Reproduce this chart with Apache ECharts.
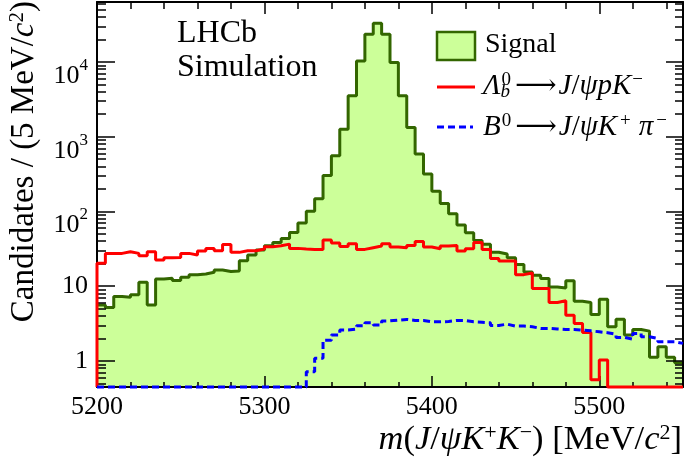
<!DOCTYPE html>
<html>
<head>
<meta charset="utf-8">
<script src="https://cdn.jsdelivr.net/npm/echarts@6/dist/echarts.min.js"></script>
<style>
html,body{margin:0;padding:0;background:#fff;}
#chart{width:685px;height:461px;}
</style>
</head>
<body>
<div id="chart"></div>
<script>
// ---- data (5 MeV bins from 5200 to 5550) ----
const X_MIN = 5200, X_MAX = 5550, BIN_WIDTH = 5;
const Y_MIN = 0.449, Y_MAX = 63400;
const xTickValues = [5200, 5300, 5400, 5500];
const yTickValues = [1, 10, 100, 1000, 10000];
const yTickLabels = ['1', '10', '10^2', '10^3', '10^4'];

const signal = [5.6, 5.2, 7.3, 7.1, 7.7, 11.3, 5.6, 12.5, 12.8, 11.9,
  13.2, 14.2, 14.6, 15.4, 16.5, 15.7, 16.0, 22.0, 26.2, 30.5,
  34.8, 38.6, 43.6, 52.5, 70, 101, 148, 302, 558, 1260,
  3520, 10300, 23400, 33000, 23400, 9800, 3520, 1330, 588, 318,
  187, 128, 93, 66, 52, 41, 36.5, 28.5, 27, 24,
  19.6, 15.5, 14.0, 12.7, 9.8, 9.5, 11.8, 6.3, 6.06, 4.2,
  6.7, 2.87, 3.63, 2.22, 2.64, 2.51, 1.12, 1.55, 1.12, 0.95];

const lambdaB = [20.3, 27.5, 27.5, 29.0, 27.5, 25.6, 29.0, 22.4, 24.1, 24.3,
  27.5, 26.2, 29.6, 32.1, 29.9, 36.3, 28.4, 29.9, 29.9, 31.5,
  33.8, 34.8, 36.6, 32.1, 31.5, 31.1, 31.1, 41.5, 37.8, 34.1,
  37.1, 31.1, 32.8, 34.5, 37.1, 33.4, 32.8, 35.2, 39.8, 33.4,
  31.8, 34.5, 35.2, 29.6, 31.8, 38.6, 31.0, 23.5, 21.8, 21.8,
  14.3, 15.0, 9.3, 9.3, 6.06, 6.4, 4.1, 3.18, 2.41, 0.56,
  1.03, 0, 0, 0, 0, 0, 0, 0, 0, 0];

const b0 = [0, 0, 0, 0, 0, 0, 0, 0, 0, 0,
  0, 0, 0, 0, 0, 0, 0, 0, 0, 0,
  0, 0, 0, 0, 0, 0.72, 1.09, 1.9, 2.22, 2.59,
  2.67, 2.96, 3.24, 3.02, 3.44, 3.52, 3.6, 3.49, 3.49, 3.34,
  3.34, 3.38, 3.49, 3.49, 3.34, 3.3, 3.24, 2.99, 3.11, 2.93,
  2.93, 2.87, 2.73, 2.73, 2.68, 2.64, 2.64, 2.59, 2.53, 2.46,
  2.39, 2.29, 2.07, 1.96, 2.34, 2.11, 2.0, 1.81, 1.81, 1.72];

// ---- helpers ----
function histData(vals, fromBottom) {
  const d = [];
  if (fromBottom) d.push([X_MIN, Y_MIN]);
  vals.forEach((v, i) => d.push([X_MIN + i * BIN_WIDTH, v > 0 ? v : Y_MIN]));
  const last = vals[vals.length - 1];
  d.push([X_MAX, last > 0 ? last : Y_MIN]);
  return d;
}
// minor log ticks (2..9 per decade) inside the axis range
const yMinorTicks = [];
for (let e = -1; e <= 4; e++) {
  for (let m = 2; m <= 9; m++) {
    const v = m * Math.pow(10, e);
    if (v > Y_MIN && v < Y_MAX) yMinorTicks.push(v);
  }
}

const FONT = '"Liberation Serif", "Times New Roman", "DejaVu Serif", serif';
const BLACK = '#000';

function yLabel(v) {
  const idx = yTickValues.findIndex(t => Math.abs(Math.log10(v) - Math.log10(t)) < 1e-6);
  if (idx < 0) return '';
  const s = yTickLabels[idx];
  if (s.indexOf('^') < 0) return '{p|' + s + '}';
  const parts = s.split('^');
  return '{b|' + parts[0] + '}{s|' + parts[1] + '}';
}

const chart = echarts.init(document.getElementById('chart'), null, {renderer: 'canvas'});

const tickStyle = {color: BLACK, width: 1.5};
const axisLineStyle = {color: BLACK, width: 2};

function minorYAxis(position, len) {
  return {
    type: 'log', logBase: 10, min: Y_MIN, max: Y_MAX, position: position, z: 3,
    axisLine: {show: false, onZero: false},
    axisTick: {show: true, inside: true, length: len, lineStyle: tickStyle, customValues: yMinorTicks},
    axisLabel: {show: false}, splitLine: {show: false}
  };
}

const legendRich = {
  i: {fontFamily: FONT, fontStyle: 'italic', fontSize: 29, lineHeight: 30, verticalAlign: 'bottom', fill: BLACK},
  n: {fontFamily: FONT, fontSize: 29, lineHeight: 30, verticalAlign: 'bottom', fill: BLACK},
  a: {fontFamily: FONT, fontSize: 29, lineHeight: 30, verticalAlign: 'bottom', fill: BLACK, padding: [0, 2, 0, 2]},
  sub: {fontFamily: FONT, fontStyle: 'italic', fontSize: 19, lineHeight: 18, width: 0, verticalAlign: 'bottom', fill: BLACK},
  sup: {fontFamily: FONT, fontSize: 19, lineHeight: 18, verticalAlign: 'top', fill: BLACK, padding: [0, 2, 0, 1]},
  supw: {fontFamily: FONT, fontSize: 19, lineHeight: 18, verticalAlign: 'top', fill: BLACK, padding: [0, 8, 0, 3]}
};
function titleRich(size, supSize) {
  return {
    i: {fontFamily: FONT, fontStyle: 'italic', fontSize: size, lineHeight: size + 1, verticalAlign: 'bottom', fill: BLACK},
    n: {fontFamily: FONT, fontSize: size, lineHeight: size + 1, verticalAlign: 'bottom', fill: BLACK},
    s: {fontFamily: FONT, fontSize: supSize, lineHeight: supSize, verticalAlign: 'top', fill: BLACK}
  };
}

const option = {
  animation: false,
  backgroundColor: '#fff',
  grid: {left: 97, right: 2, top: 2, bottom: 74, containLabel: false, outerBoundsMode: 'none'},
  xAxis: [
    {
      type: 'value', min: X_MIN, max: X_MAX, interval: 100, position: 'bottom', z: 3,
      axisLine: {show: true, onZero: false, lineStyle: axisLineStyle},
      axisTick: {show: true, inside: true, length: 11, lineStyle: tickStyle},
      axisLabel: {
        show: true, margin: 7, color: BLACK, fontFamily: FONT, fontSize: 26,
        showMaxLabel: false,
        formatter: v => (xTickValues.indexOf(v) >= 0 ? String(v) : '')
      },
      splitLine: {show: false}
    },
    {
      type: 'value', min: X_MIN, max: X_MAX, interval: 20, position: 'bottom', z: 3,
      axisLine: {show: false, onZero: false},
      axisTick: {show: true, inside: true, length: 5, lineStyle: tickStyle},
      axisLabel: {show: false}, splitLine: {show: false}
    },
    {
      type: 'value', min: X_MIN, max: X_MAX, interval: 100, position: 'top', z: 3,
      axisLine: {show: true, onZero: false, lineStyle: axisLineStyle},
      axisTick: {show: true, inside: true, length: 12, lineStyle: tickStyle},
      axisLabel: {show: false}, splitLine: {show: false}
    },
    {
      type: 'value', min: X_MIN, max: X_MAX, interval: 20, position: 'top', z: 3,
      axisLine: {show: false, onZero: false},
      axisTick: {show: true, inside: true, length: 7, lineStyle: tickStyle},
      axisLabel: {show: false}, splitLine: {show: false}
    }
  ],
  yAxis: [
    {
      type: 'log', logBase: 10, min: Y_MIN, max: Y_MAX, position: 'left', z: 3,
      axisLine: {show: true, onZero: false, lineStyle: axisLineStyle},
      axisTick: {show: true, inside: true, length: 18, lineStyle: tickStyle},
      axisLabel: {
        show: true, margin: 9, color: BLACK, fontFamily: FONT,
        formatter: yLabel,
        rich: {
          p: {fontFamily: FONT, fontSize: 26, lineHeight: 26, color: BLACK},
          b: {fontFamily: FONT, fontSize: 26, lineHeight: 26, padding: [14, 0, 0, 0], verticalAlign: 'top', color: BLACK},
          s: {fontFamily: FONT, fontSize: 17, lineHeight: 17, padding: [8, 0, 0, 0], verticalAlign: 'top', color: BLACK}
        }
      },
      splitLine: {show: false}
    },
    {
      type: 'log', logBase: 10, min: Y_MIN, max: Y_MAX, position: 'right', z: 3,
      axisLine: {show: true, onZero: false, lineStyle: axisLineStyle},
      axisTick: {show: true, inside: true, length: 17, lineStyle: tickStyle},
      axisLabel: {show: false}, splitLine: {show: false}
    },
    minorYAxis('left', 9),
    minorYAxis('right', 8)
  ],
  series: [
    {
      name: 'Signal', type: 'line', step: 'end', xAxisIndex: 0, yAxisIndex: 0,
      symbol: 'none', z: 1, data: histData(signal, false),
      lineStyle: {color: '#336600', width: 3},
      areaStyle: {color: '#ccff99', opacity: 1, origin: 'start'}
    },
    {
      name: 'Lambda_b', type: 'line', step: 'end', xAxisIndex: 0, yAxisIndex: 0,
      symbol: 'none', z: 5, clip: false, data: histData(lambdaB, true),
      lineStyle: {color: '#ff0000', width: 3}
    },
    {
      name: 'B0', type: 'line', step: 'end', xAxisIndex: 0, yAxisIndex: 0,
      symbol: 'none', z: 6, clip: false, data: histData(b0, false),
      lineStyle: {color: '#0000ff', width: 3, type: [7, 4]}
    }
  ],
  graphic: [
    // LHCb label
    {type: 'text', x: 177, y: 34, z: 10, style: {text: 'LHCb', fontFamily: FONT, fontSize: 32, fill: BLACK, align: 'left', verticalAlign: 'middle'}},
    {type: 'text', x: 177, y: 68, z: 10, style: {text: 'Simulation', fontFamily: FONT, fontSize: 32, fill: BLACK, align: 'left', verticalAlign: 'middle'}},
    // legend
    {type: 'rect', z: 10, shape: {x: 437, y: 32, width: 38, height: 28}, style: {fill: '#ccff99', stroke: '#336600', lineWidth: 2.5}},
    {type: 'text', x: 485, y: 45, z: 10, style: {text: 'Signal', fontFamily: FONT, fontSize: 28, fill: BLACK, align: 'left', verticalAlign: 'middle'}},
    {type: 'line', z: 10, shape: {x1: 437, y1: 87, x2: 475, y2: 87}, style: {stroke: '#ff0000', lineWidth: 3}},
    {type: 'text', x: 483, y: 86, z: 10, style: {
      text: '{i|Λ}{sub|b}{sup|0}{a|⟶}{i|J}{n|/}{i|ψpK}{sup|−}',
      align: 'left', verticalAlign: 'middle', rich: legendRich
    }},
    {type: 'line', z: 10, shape: {x1: 437, y1: 127, x2: 473, y2: 127}, style: {stroke: '#0000ff', lineWidth: 3, lineDash: [7, 4]}},
    {type: 'text', x: 483, y: 127, z: 10, style: {
      text: '{i|B}{sup|0}{a|⟶}{i|J}{n|/}{i|ψK}{supw|+}{i|π}{supw|−}',
      align: 'left', verticalAlign: 'middle', rich: legendRich
    }},
    // x axis title
    {type: 'text', x: 682, y: 440, z: 10, style: {
      text: '{i|m}{n|(}{i|J}{n|/}{i|ψK}{s|+}{i|K}{s|−}{n|) [MeV/}{i|c}{s|2}{n|]}',
      align: 'right', verticalAlign: 'middle', rich: titleRich(34.5, 22)
    }},
    // y axis title
    {type: 'text', x: 24, y: 1, rotation: Math.PI / 2, z: 10, style: {
      text: '{n|Candidates / (5 MeV/}{i|c}{s|2}{n|)}',
      align: 'right', verticalAlign: 'middle', rich: titleRich(33, 21)
    }}
  ]
};
chart.setOption(option);
</script>
</body>
</html>
